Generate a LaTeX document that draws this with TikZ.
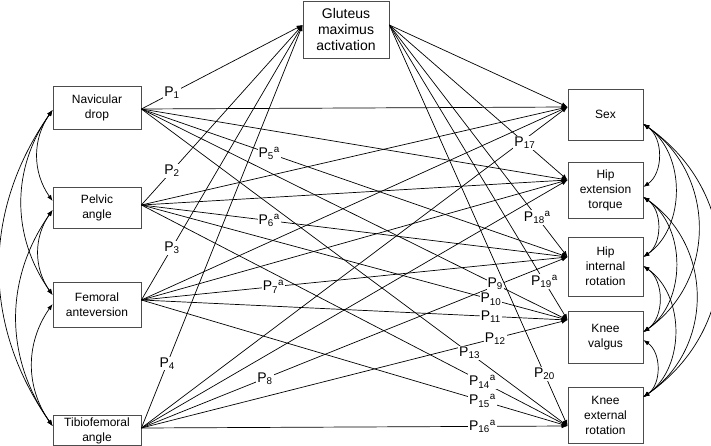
\documentclass[tikz,border=0pt]{standalone}
\usepackage{fontspec}
\setmainfont{Liberation Sans}
\usetikzlibrary{arrows.meta}
\begin{document}
\begin{tikzpicture}[x=1pt,y=-1pt,line width=0.7pt,>={Latex[length=6pt,width=4.5pt]},
  box/.style={draw=black!70,line width=0.8pt,align=center,inner sep=0pt,font=\fontsize{12}{15}\selectfont},
  lbox/.style={box,minimum width=88pt},
  rbox/.style={box,minimum width=75pt},
  lab/.style={fill=white,inner sep=1pt,font=\fontsize{14}{14}\selectfont},
  lcor/.style={<->,bend right=35},
  rcor/.style={<->,bend left=55}]
\useasboundingbox (0,0) rectangle (711,446);
% predictors
\node[lbox,minimum height=43pt] (nd) at (97,107.5) {Navicular\\drop};
\node[lbox,minimum height=41pt] (pa) at (97,207.5) {Pelvic\\angle};
\node[lbox,minimum height=45pt] (fa) at (97,304.5) {Femoral\\anteversion};
\node[lbox,minimum height=30pt] (ta) at (97,430.5) {Tibiofemoral\\angle};
% mediator
\node[box,minimum width=86pt,minimum height=57pt,font=\fontsize{14}{16}\selectfont] (gm) at (346,29.5) {Gluteus\\maximus\\activation};
% outcomes
\node[rbox,minimum height=51pt] (sex) at (605.5,114.5) {Sex};
\node[rbox,minimum height=56pt] (het) at (605.5,190) {Hip\\extension\\torque};
\node[rbox,minimum height=59pt] (hir) at (605.5,266.5) {Hip\\internal\\rotation};
\node[rbox,minimum height=52pt] (kv) at (605.5,337) {Knee\\valgus};
\node[rbox,minimum height=56pt] (ker) at (605.5,415) {Knee\\external\\rotation};
% end points
\coordinate (ndE) at ([yshift=-1.5pt]nd.east);
\coordinate (paE) at ([yshift=2.5pt]pa.east);
\coordinate (faE) at ([yshift=4.5pt]fa.east);
\coordinate (taE) at ([yshift=2.5pt]ta.east);
\coordinate (ndW) at ([yshift=-2.5pt]nd.west);
\coordinate (paWu) at ([yshift=6.5pt]pa.west);
\coordinate (paWd) at ([yshift=-2.5pt]pa.west);
\coordinate (faWu) at ([yshift=9.5pt]fa.west);
\coordinate (faWd) at ([yshift=0.5pt]fa.west);
\coordinate (taW) at ([yshift=4.5pt]ta.west);
\coordinate (gmW) at ([yshift=4.5pt]gm.west);
\coordinate (gmE) at ([yshift=4.5pt]gm.east);
\coordinate (sexW) at ([yshift=7.5pt]sex.west);
\coordinate (hetW) at ([yshift=10pt]het.west);
\coordinate (hirW) at ([yshift=9.5pt]hir.west);
\coordinate (kvW) at ([yshift=17pt]kv.west);
\coordinate (kerW) at ([yshift=-11pt]ker.west);
\coordinate (sexE) at ([yshift=-9.5pt]sex.east);
\coordinate (hetEu) at ([yshift=3pt]het.east);
\coordinate (hetEd) at ([yshift=-7pt]het.east);
\coordinate (hirEu) at ([yshift=9.5pt]hir.east);
\coordinate (hirEd) at ([yshift=0.5pt]hir.east);
\coordinate (kvEu) at ([yshift=5pt]kv.east);
\coordinate (kvEd) at ([yshift=-3pt]kv.east);
\coordinate (kerE) at ([yshift=18pt]ker.east);
% covariances
\draw[lcor] (ndW) to (paWu);
\draw[lcor] (ndW) to (faWu);
\draw[lcor] (ndW) to (taW);
\draw[lcor] (paWd) to (faWu);
\draw[lcor] (paWd) to (taW);
\draw[lcor] (faWd) to (taW);
\draw[rcor] (sexE) to (hetEu);
\draw[rcor] (sexE) to (hirEu);
\draw[rcor,looseness=1.1] (sexE) to (kvEu);
\draw[rcor,looseness=1.15] (sexE) to (kerE);
\draw[rcor] (hetEd) to (hirEu);
\draw[rcor] (hetEd) to (kvEu);
\draw[rcor,looseness=1.1] (hetEd) to (kerE);
\draw[rcor] (hirEd) to (kvEu);
\draw[rcor] (hirEd) to (kerE);
\draw[rcor] (kvEd) to (kerE);
% unlabelled paths
\draw[->] (ndE) to (sexW);
\draw[->] (paE) to (sexW);
\draw[->] (faE) to (sexW);
\draw[->] (taE) to (sexW);
\draw[->] (ndE) to (hetW);
\draw[->] (paE) to (hetW);
\draw[->] (faE) to (hetW);
\draw[->] (taE) to (hetW);
\draw[->] (gmE) to (sexW);
% labelled paths
\draw[->] (ndE) to node[lab,pos=.19] {P\textsubscript{1}} (gmW);
\draw[->] (paE) to node[lab,pos=.19] {P\textsubscript{2}} (gmW);
\draw[->] (faE) to node[lab,pos=.19] {P\textsubscript{3}} (gmW);
\draw[->] (taE) to node[lab,pos=.16] {P\textsubscript{4}} (gmW);
\draw[->] (ndE) to node[lab,pos=.30] {P\textsubscript{5}\textsuperscript{a}} (hirW);
\draw[->] (paE) to node[lab,pos=.30] {P\textsubscript{6}\textsuperscript{a}} (hirW);
\draw[->] (faE) to node[lab,pos=.31] {P\textsubscript{7}\textsuperscript{a}} (hirW);
\draw[->] (taE) to node[lab,pos=.29] {P\textsubscript{8}} (hirW);
\draw[->] (ndE) to node[lab,pos=.83] {P\textsubscript{9}} (kvW);
\draw[->] (paE) to node[lab,pos=.82] {P\textsubscript{10}} (kvW);
\draw[->] (faE) to node[lab,pos=.82] {P\textsubscript{11}} (kvW);
\draw[->] (taE) to node[lab,pos=.83] {P\textsubscript{12}} (kvW);
\draw[->] (ndE) to node[lab,pos=.77] {P\textsubscript{13}} (kerW);
\draw[->] (paE) to node[lab,pos=.80] {P\textsubscript{14}\textsuperscript{a}} (kerW);
\draw[->] (faE) to node[lab,pos=.80] {P\textsubscript{15}\textsuperscript{a}} (kerW);
\draw[->] (taE) to node[lab,pos=.80] {P\textsubscript{16}\textsuperscript{a}} (kerW);
\draw[->] (gmE) to node[lab,pos=.76] {P\textsubscript{17}} (hetW);
\draw[->] (gmE) to node[lab,pos=.83] {P\textsubscript{18}\textsuperscript{a}} (hirW);
\draw[->] (gmE) to node[lab,pos=.87] {P\textsubscript{19}\textsuperscript{a}} (kvW);
\draw[->] (gmE) to node[lab,pos=.87] {P\textsubscript{20}} (kerW);
\end{tikzpicture}
\end{document}
